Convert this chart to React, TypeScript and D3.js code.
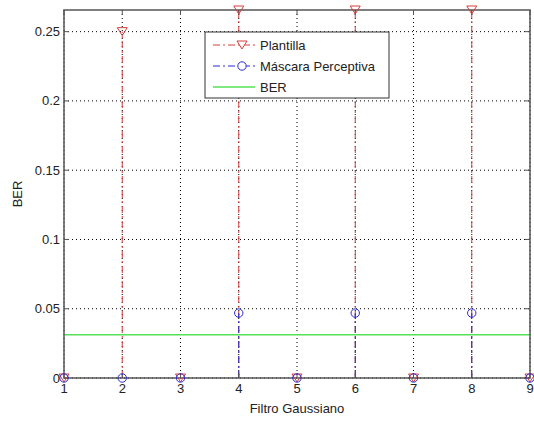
import React from "react";
import * as d3 from "d3";

const xs = [1, 2, 3, 4, 5, 6, 7, 8, 9];
const plantilla = [0, 0.25, 0, 0.265625, 0, 0.265625, 0, 0.265625, 0];
const mascara = [0, 0, 0, 0.046875, 0, 0.046875, 0, 0.046875, 0];
const berValue = 0.03125;
const xTicks = [1, 2, 3, 4, 5, 6, 7, 8, 9];
const yTicks = [0, 0.05, 0.1, 0.15, 0.2, 0.25];
const seriesNames = ["Plantilla", "Máscara Perceptiva", "BER"];

const W = 534, H = 421;
const L = 64, R = 530, T = 10, B = 378;
const FONT = "'Liberation Sans', Arial, sans-serif";

export default function App() {
  const x = d3.scaleLinear().domain([1, 9]).range([L, R]);
  const y = d3.scaleLinear().domain([0, 0.265625]).range([B, T]);
  const red = "#d43c3c";
  const blue = "#2a2ad0";
  const green = "#55e055";
  const tri = (cx: number, cy: number) => `M${cx - 5},${cy - 4}L${cx + 5},${cy - 4}L${cx},${cy + 4}Z`;
  const dashdot = "7,3,2,3";
  const fmt = (v: number) => (v === 0 ? "0" : d3.format("")(+v.toFixed(2)));
  return (
    <svg width={W} height={H} style={{ position: "absolute", left: 0, top: 0, background: "#fff" }} fontFamily={FONT}>
      <rect x={0} y={0} width={W} height={H} fill="#fff" />
      <rect x={L} y={T} width={R - L} height={B - T} fill="#fff" />
      {/* grid */}
      {xTicks.map((t) => (
        <line key={"gx" + t} x1={x(t)} x2={x(t)} y1={T} y2={B} stroke="#000" strokeWidth={1} strokeDasharray="1,3" />
      ))}
      {yTicks.map((t) => (
        <line key={"gy" + t} x1={L} x2={R} y1={y(t)} y2={y(t)} stroke="#000" strokeWidth={1} strokeDasharray="1,3" />
      ))}
      {/* BER line */}
      <line x1={L} x2={R} y1={y(berValue)} y2={y(berValue)} stroke={green} strokeWidth={1.5} />
      {/* Plantilla stems */}
      {xs.map((xv, i) => (
        <line key={"ps" + i} x1={x(xv)} x2={x(xv)} y1={y(0)} y2={y(plantilla[i])} stroke={red} strokeWidth={1} strokeDasharray={dashdot} />
      ))}
      {/* Mascara stems */}
      {xs.map((xv, i) => (
        <line key={"ms" + i} x1={x(xv)} x2={x(xv)} y1={y(0)} y2={y(mascara[i])} stroke={blue} strokeWidth={1} strokeDasharray={dashdot} />
      ))}
      {/* axes box */}
      <rect x={L} y={T} width={R - L} height={B - T} fill="none" stroke="#555" strokeWidth={1.5} />
      {/* ticks */}
      {xTicks.map((t) => (
        <g key={"tx" + t}>
          <line x1={x(t)} x2={x(t)} y1={B} y2={B - 5} stroke="#555" />
          <line x1={x(t)} x2={x(t)} y1={T} y2={T + 5} stroke="#555" />
          <text x={x(t)} y={B + 15} textAnchor="middle" fontSize={13} fill="#222">{t}</text>
        </g>
      ))}
      {yTicks.map((t) => (
        <g key={"ty" + t}>
          <line x1={L} x2={L + 5} y1={y(t)} y2={y(t)} stroke="#555" />
          <line x1={R} x2={R - 5} y1={y(t)} y2={y(t)} stroke="#555" />
          <text x={L - 4} y={y(t) + 4.5} textAnchor="end" fontSize={13} fill="#222">{fmt(t)}</text>
        </g>
      ))}
      {/* markers */}
      {xs.map((xv, i) => (
        <path key={"pm" + i} d={tri(x(xv), y(plantilla[i]))} fill="none" stroke={red} strokeWidth={1} />
      ))}
      {xs.map((xv, i) => (
        <circle key={"mm" + i} cx={x(xv)} cy={y(mascara[i])} r={4.2} fill="none" stroke={blue} strokeWidth={1} />
      ))}
      {/* labels */}
      <text x={(L + R) / 2} y={413} textAnchor="middle" fontSize={13} fill="#222">Filtro Gaussiano</text>
      <text transform={`translate(22,${(T + B) / 2}) rotate(-90)`} textAnchor="middle" fontSize={13} fill="#222">BER</text>
      {/* legend */}
      <g>
        <rect x={205} y={32} width={184} height={66} fill="#fff" stroke="#333" strokeWidth={1} />
        <line x1={213} x2={255} y1={45} y2={45} stroke={red} strokeDasharray={dashdot} />
        <path d={tri(242, 45)} fill="#fff" stroke={red} />
        <text x={260} y={50} fontSize={13} fill="#222">{seriesNames[0]}</text>
        <line x1={213} x2={255} y1={66} y2={66} stroke={blue} strokeDasharray={dashdot} />
        <circle cx={242} cy={66} r={4.2} fill="#fff" stroke={blue} />
        <text x={260} y={71} fontSize={13} fill="#222">{seriesNames[1]}</text>
        <line x1={213} x2={255} y1={87} y2={87} stroke={green} strokeWidth={1.5} />
        <text x={260} y={92} fontSize={13} fill="#222">{seriesNames[2]}</text>
      </g>
    </svg>
  );
}
